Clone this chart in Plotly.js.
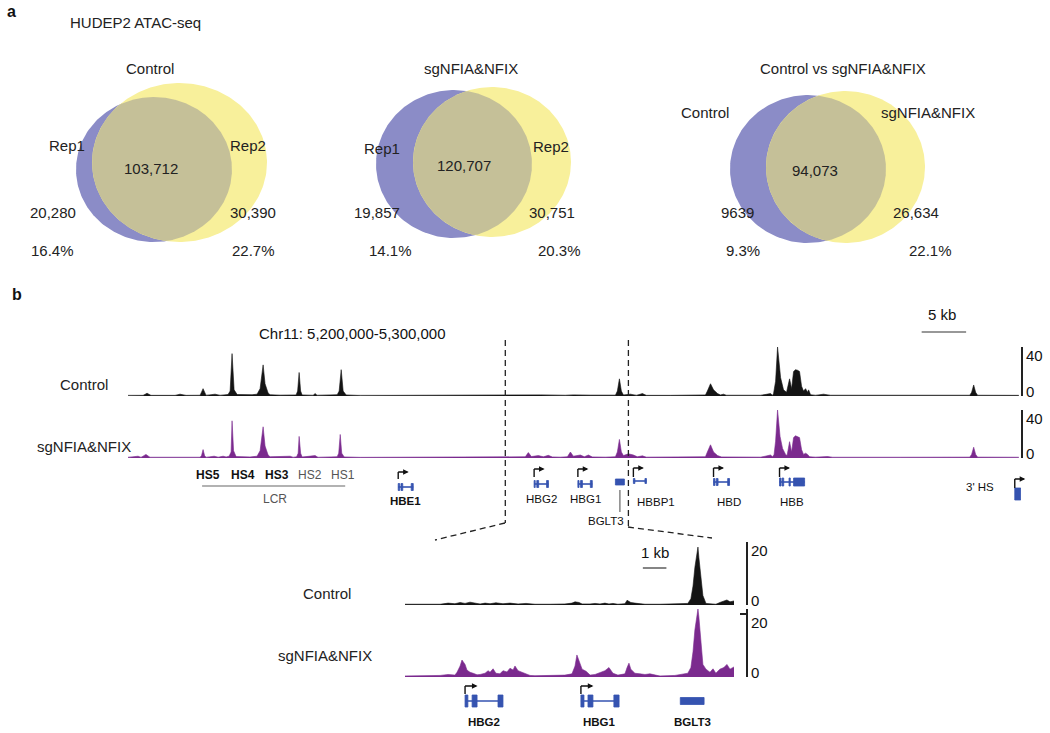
<!DOCTYPE html>
<html><head><meta charset="utf-8">
<script src="https://cdn.plot.ly/plotly-3.0.1.min.js"></script>
<style>html,body{margin:0;padding:0;background:#fff}#chart{width:1050px;height:733px}</style>
</head><body><div id="chart"></div>
<script>
// ================= DATA =================
// Panel a: Venn diagrams (peak counts)
const vennTitles = ['Control', 'sgNFIA&NFIX', 'Control vs sgNFIA&NFIX'];
const setANames = ['Rep1', 'Rep1', 'Control'];
const setBNames = ['Rep2', 'Rep2', 'sgNFIA&NFIX'];
const onlyA = [20280, 19857, 9639];
const shared = [103712, 120707, 94073];
const onlyB = [30390, 30751, 26634];

// Panel b: ATAC signal, chr11 position (kb) and signal
const mainCtrl = [[5300.44,0.3],[5298.75,0.4],[5298.30,2.3],[5297.85,0.4],[5295.15,0.4],[5294.59,1.5],[5293.91,0.4],[5292.34,0.5],[5292.00,6],[5291.66,0.5],[5290.65,1.5],[5290.09,0.5],[5289.19,1.2],[5288.96,4],[5288.74,34.6],[5288.51,5],[5288.17,1.2],[5287.27,0.8],[5286.49,1.0],[5285.93,1.5],[5285.59,6],[5285.25,25.4],[5285.03,10],[5284.69,2.5],[5284.46,1],[5283.34,0.6],[5281.54,0.8],[5281.37,4],[5281.20,19.2],[5281.03,4],[5280.86,0.8],[5279.63,0.5],[5279.40,2],[5279.18,0.5],[5277.71,1],[5276.92,1],[5276.70,4],[5276.47,21.5],[5276.25,4],[5275.91,0.8],[5274.33,0.3],[5269.83,0.5],[5264.20,0.4],[5258.58,0.5],[5255.20,0.7],[5254.08,0.9],[5251.27,0.5],[5250.37,0.9],[5248.45,0.6],[5247.33,0.5],[5245.64,0.6],[5245.42,4],[5245.19,14],[5244.97,4],[5244.74,0.8],[5243.95,1.5],[5243.28,0.5],[5242.60,2],[5242.15,0.4],[5239.45,0.4],[5236.07,0.5],[5235.52,0.8],[5235.30,4],[5234.95,10],[5234.61,5],[5234.16,2],[5233.83,0.8],[5233.49,1.5],[5233.15,0.5],[5229.33,0.5],[5228.20,2],[5227.97,0.5],[5227.86,2],[5227.63,12],[5227.41,40],[5227.07,15],[5226.74,5],[5226.40,3],[5226.06,14],[5225.83,6],[5225.61,20],[5225.39,21.5],[5225.16,21],[5224.94,20],[5224.71,8],[5224.49,4],[5224.26,6],[5224.04,3],[5223.92,5],[5223.70,1],[5223.14,0.5],[5222.24,1.5],[5221.45,0.5],[5213.57,0.4],[5205.81,0.5],[5205.59,3],[5205.36,9],[5205.14,3],[5204.91,0.5],[5200.29,0.4]];
const mainKO = [[5300.44,0.5],[5299.31,1.5],[5298.98,0.5],[5298.42,3],[5297.96,0.5],[5295.04,0.4],[5294.59,1],[5294.14,0.4],[5292.34,0.5],[5292.17,2],[5292.00,7],[5291.83,2],[5291.66,0.5],[5290.76,1.5],[5290.30,0.6],[5289.75,1.5],[5289.41,0.8],[5289.07,1.5],[5288.85,5],[5288.74,31],[5288.57,6],[5288.29,1.2],[5286.71,0.8],[5285.93,1.5],[5285.59,6],[5285.25,26],[5285.03,10],[5284.69,2.5],[5284.46,1],[5282.21,1.5],[5281.87,0.5],[5281.48,1],[5281.31,4],[5281.20,18],[5281.03,4],[5280.86,0.8],[5279.40,2],[5279.07,0.5],[5276.92,1],[5276.75,4],[5276.58,19.6],[5276.41,4],[5276.13,0.8],[5274.33,0.4],[5267.58,0.5],[5260.83,0.5],[5256.89,0.8],[5255.77,1],[5255.43,4.5],[5255.09,1.2],[5254.30,2],[5253.74,1],[5253.18,2.2],[5252.73,0.8],[5251.83,0.6],[5251.04,1],[5250.70,5],[5250.37,1.5],[5249.58,2.5],[5249.13,1],[5248.68,2.5],[5248.23,0.8],[5246.77,0.6],[5245.64,1],[5245.42,5],[5245.19,15.5],[5244.97,5],[5244.74,2],[5244.18,3.5],[5243.62,2.5],[5243.17,1],[5242.60,1.8],[5242.15,0.6],[5238.33,0.6],[5235.52,1],[5235.30,5],[5234.95,11],[5234.61,5],[5234.16,2],[5233.71,0.8],[5229.33,0.6],[5228.20,2.5],[5227.97,1],[5227.80,3],[5227.63,14],[5227.41,40],[5227.13,18],[5226.85,8],[5226.51,3],[5226.34,2],[5226.06,13.6],[5225.83,5],[5225.61,17],[5225.39,18.5],[5225.16,18],[5224.94,17],[5224.71,7],[5224.49,3],[5224.26,4],[5224.04,3],[5223.81,1],[5223.14,0.6],[5221.78,1.2],[5221.22,0.5],[5213.57,0.5],[5205.81,0.6],[5205.59,3],[5205.36,9],[5205.14,3],[5204.91,0.6],[5200.29,0.5]];
const insetCtrl = [[5257.33,0.2],[5256.69,0.3],[5255.84,0.2],[5255.50,0.6],[5255.21,0.4],[5254.99,0.8],[5254.78,0.5],[5254.57,0.9],[5254.27,0.6],[5254.14,0.3],[5253.93,0.6],[5253.72,0.4],[5253.47,0.7],[5253.17,0.4],[5252.87,0.6],[5252.53,0.3],[5252.19,0.5],[5251.81,0.2],[5251.17,0.2],[5250.54,0.3],[5250.24,0.6],[5250.11,1.0],[5249.94,0.8],[5249.81,0.3],[5249.47,0.3],[5249.26,0.5],[5249.05,0.3],[5248.84,0.6],[5248.67,0.3],[5248.50,0.5],[5248.29,0.2],[5247.99,0.4],[5247.90,1.5],[5247.82,1.2],[5247.74,0.8],[5247.57,0.6],[5247.35,0.5],[5247.14,0.2],[5246.50,0.2],[5245.87,0.3],[5245.32,0.5],[5245.19,2],[5245.10,6],[5245.02,12],[5244.93,16],[5244.89,18.4],[5244.85,15],[5244.76,9],[5244.68,3],[5244.55,0.5],[5244.25,0.4],[5244.13,0.2],[5243.96,0.8],[5243.79,1.2],[5243.66,1.6],[5243.53,1.0],[5243.36,1.3]];
const insetKO = [[5257.33,0.3],[5256.69,0.4],[5255.84,0.5],[5255.50,0.8],[5255.21,0.6],[5255.12,1.5],[5254.99,3.5],[5254.91,5.4],[5254.78,4],[5254.70,2.2],[5254.57,1.5],[5254.44,1.2],[5254.27,0.7],[5254.14,0.8],[5253.93,1.2],[5253.80,2.0],[5253.72,1.5],[5253.59,2.6],[5253.47,1.2],[5253.30,1.0],[5253.17,2.0],[5253.00,1.6],[5252.87,2.8],[5252.74,2.2],[5252.66,3.5],[5252.53,2.0],[5252.36,1.5],[5252.19,1.2],[5252.02,0.5],[5251.81,0.4],[5251.17,0.5],[5250.54,0.6],[5250.24,1.0],[5250.11,3.5],[5250.03,7],[5249.94,5],[5249.81,2.5],[5249.64,1.8],[5249.47,0.6],[5249.26,0.8],[5249.05,1.5],[5248.84,2.0],[5248.67,3.0],[5248.50,1.2],[5248.29,0.6],[5247.99,1.0],[5247.90,3.0],[5247.82,4.4],[5247.74,2.5],[5247.57,1.2],[5247.35,1.0],[5247.14,0.8],[5246.93,1.0],[5246.50,0.3],[5245.87,0.5],[5245.32,1.2],[5245.19,3],[5245.10,8],[5245.02,15],[5244.93,20],[5244.89,21.6],[5244.85,19],[5244.76,12],[5244.68,4],[5244.55,2.5],[5244.38,1.5],[5244.25,2.6],[5244.13,1.2],[5243.96,2.5],[5243.79,3.0],[5243.66,4.0],[5243.53,2.5],[5243.36,3.2]];

// Genes (kb on chr11, displayed minus strand left->right)
const geneNames = ['HBE1', 'HBG2', 'HBG1', 'BGLT3', 'HBBP1', 'HBD', 'HBB', ''];
const geneExons = [
  [[5270.06,5269.90],[5269.75,5269.55],[5268.60,5268.37]],
  [[5254.78,5254.66],[5254.48,5254.27],[5253.38,5253.17]],
  [[5249.86,5249.73],[5249.56,5249.35],[5248.46,5248.24]],
  [[5245.64,5244.63]],
  [[5243.62,5243.45],[5242.32,5242.15]],
  [[5234.61,5234.45],[5234.30,5234.10],[5233.02,5232.81]],
  [[5227.19,5227.02],[5226.90,5226.72],[5226.12,5225.98],[5225.61,5224.37]],
  [[5200.74,5200.07]]
];
const geneHasTss = [true, true, true, false, true, true, true, true];
const insetGenes = ['HBG2', 'HBG1', 'BGLT3'];
const lcrNames = ['HS5', 'HS4', 'HS3', 'HS2', 'HS1'];
const zoomWindow = [5258.02, 5244.18];
const trackTicksMain = [0, 40];
const trackTicksInset = [0, 20];

// ================= LAYOUT CONFIG (positions / styles) =================
const W = 1050, H = 733;
const py = v => 1 - v / H;
const pxp = v => v / W;
const FONT = 'Liberation Sans, Arial, Helvetica, sans-serif';
const BLUE = '#3553b0', BLACK = '#141414', PURPLE = '#7b2a8e';
const vennColA = '#8b8cc7', vennColB = '#f8f09b', vennColAB = '#c5c098';

const vennGeo = [
  {A:{cx:154,cy:169.5,rx:78,ry:72.5}, B:{cx:179.5,cy:162.5,rx:87.5,ry:79.5},
   title:[150,68], la:[67,145], lb:[248,145], both:[151,168], oa:[53,212], ob:[253,212], pa:[52,250], pb:[253,250]},
  {A:{cx:454,cy:164,rx:78,ry:74}, B:{cx:492,cy:162,rx:79,ry:75},
   title:[471,68], la:[382,148], lb:[551,146], both:[464,165], oa:[377,212], ob:[552,212], pa:[390,250], pb:[559,250]},
  {A:{cx:808,cy:169,rx:78,ry:74}, B:{cx:845.5,cy:167,rx:79.5,ry:76},
   title:[843,68], la:[705,112], lb:[928,112], both:[815,170], oa:[737,212], ob:[916,212], pa:[743,250], pb:[930,250]}
];
// main gene glyph rows (pixel y): centre, exon height, arrow y, arrow foot
const glyphY   = [487, 484, 484, 482, 481, 482, 482, 494];
const glyphH   = [7, 7, 7, 6, 5, 7, 8, 12];
const arrowY   = [472, 469, 469, 0, 468, 468, 468, 479];
const arrowFoot= [479, 477, 477, 0, 477, 477, 477, 488];
const mainLabel = {
  HBE1:{y:501, bold:true}, HBG2:{y:499}, HBG1:{y:499}, BGLT3:{x:5246.65, y:521},
  HBBP1:{x:5243.39, y:502, anchor:'left'}, HBD:{x:5234.50, y:502, anchor:'left'}, HBB:{y:502}
};
const hsLabelKb = [5291.44, 5287.50, 5283.67, 5279.96, 5276.25];

// ================= BUILD =================
const traces = [], shapes = [], annotations = [];
function addText(o) {
  annotations.push(Object.assign({showarrow: false, xanchor: 'center', yanchor: 'middle'}, o));
}

// ---- Venn
function ellipse(e, n) {
  const xs = [], ys = [];
  for (let k = 0; k <= n; k++) { const t = 2 * Math.PI * k / n; xs.push(e.cx + e.rx * Math.cos(t)); ys.push(e.cy + e.ry * Math.sin(t)); }
  return [xs, ys];
}
const inside = (e, x, y) => ((x - e.cx) / e.rx) ** 2 + ((y - e.cy) / e.ry) ** 2 <= 1;
function lens(a, b, n) {
  const pts = [];
  for (let k = 0; k < n; k++) {
    const t = 2 * Math.PI * k / n;
    let x = a.cx + a.rx * Math.cos(t), y = a.cy + a.ry * Math.sin(t);
    if (inside(b, x, y)) pts.push([x, y]);
    x = b.cx + b.rx * Math.cos(t); y = b.cy + b.ry * Math.sin(t);
    if (inside(a, x, y)) pts.push([x, y]);
  }
  const mx = pts.reduce((s, p) => s + p[0], 0) / pts.length, my = pts.reduce((s, p) => s + p[1], 0) / pts.length;
  pts.sort((p, q) => Math.atan2(p[1] - my, p[0] - mx) - Math.atan2(q[1] - my, q[0] - mx));
  pts.push(pts[0]);
  return [pts.map(p => p[0]), pts.map(p => p[1])];
}
const fmtN = n => n >= 10000 ? n.toLocaleString('en-US') : String(n);
const pct = (a, s) => (100 * a / (a + s)).toFixed(1) + '%';
function vtext(t, pos) {
  addText({text: t, x: pos[0], y: pos[1], xref: 'x3', yref: 'y5', font: {size: 15, color: '#222'}});
}
vennGeo.forEach((g, i) => {
  const [ax, ay] = ellipse(g.A, 240), [bx, by] = ellipse(g.B, 240), [lx, ly] = lens(g.A, g.B, 1440);
  const base = {type: 'scatter', mode: 'lines', fill: 'toself', xaxis: 'x3', yaxis: 'y5', line: {width: 0}, hoverinfo: 'skip'};
  traces.push(Object.assign({}, base, {x: ax, y: ay, fillcolor: vennColA}));
  traces.push(Object.assign({}, base, {x: bx, y: by, fillcolor: vennColB}));
  traces.push(Object.assign({}, base, {x: lx, y: ly, fillcolor: vennColAB}));
  vtext(vennTitles[i], g.title);
  vtext(setANames[i], g.la); vtext(setBNames[i], g.lb);
  vtext(fmtN(shared[i]), g.both);
  vtext(fmtN(onlyA[i]), g.oa); vtext(fmtN(onlyB[i]), g.ob);
  vtext(pct(onlyA[i], shared[i]), g.pa); vtext(pct(onlyB[i], shared[i]), g.pb);
});

// ---- Tracks
function track(data, xa, ya, color) {
  traces.push({type: 'scatter', mode: 'lines', x: data.map(p => p[0]), y: data.map(p => p[1]), xaxis: xa, yaxis: ya,
    fill: 'tozeroy', fillcolor: color, line: {color: color, width: 0.6}, hoverinfo: 'skip'});
}
function baseline(data, xa, ya, color) {
  shapes.push({type: 'line', xref: xa, yref: ya, x0: data[0][0], x1: data[data.length - 1][0], y0: 0, y1: 0,
    line: {color: color, width: 3}, layer: 'below'});
}
baseline(mainCtrl, 'x', 'y', '#cfcfcf'); baseline(mainKO, 'x', 'y2', '#dfd0e8');
baseline(insetCtrl, 'x2', 'y3', '#cfcfcf'); baseline(insetKO, 'x2', 'y4', '#dfd0e8');
track(mainCtrl, 'x', 'y', BLACK);
track(mainKO, 'x', 'y2', PURPLE);
track(insetCtrl, 'x2', 'y3', BLACK);
track(insetKO, 'x2', 'y4', PURPLE);

// scale-bracket labels (at the axis tick values, nudged as in the reference)
function bracketLabels(yref, ticks, xpx) {
  addText({text: String(ticks[1]), x: pxp(xpx), xref: 'paper', y: ticks[1], yref: yref, xanchor: 'left', yshift: -8, font: {size: 15, color: '#111'}});
  addText({text: String(ticks[0]), x: pxp(xpx), xref: 'paper', y: ticks[0], yref: yref, xanchor: 'left', yshift: 5, font: {size: 15, color: '#111'}});
}
bracketLabels('y', trackTicksMain, 1024);
bracketLabels('y2', trackTicksMain, 1024);
bracketLabels('y3', trackTicksInset, 749);
bracketLabels('y4', trackTicksInset, 749);

// ---- Genes
function drawGene(i, xref, yc, h, aY, aFoot, arrowLen) {
  const ex = geneExons[i];
  const s = ex[0][0], e = ex[ex.length - 1][1];
  if (ex.length > 1) shapes.push({type: 'line', xref, yref: 'paper', x0: s, x1: e, y0: py(yc), y1: py(yc), line: {color: BLUE, width: 1.6}});
  ex.forEach(x => shapes.push({type: 'rect', xref, yref: 'paper', x0: x[0], x1: x[1], y0: py(yc - h / 2), y1: py(yc + h / 2),
    fillcolor: BLUE, line: {color: BLUE, width: 0.8}}));
  if (geneHasTss[i]) {
    shapes.push({type: 'line', xref, yref: 'paper', x0: s, x1: s, y0: py(aFoot), y1: py(aY), line: {color: '#111', width: 1.4}});
    annotations.push({x: s, y: py(aY), xref, yref: 'paper', text: '', showarrow: true, ax: arrowLen, ay: 0,
      arrowside: 'start', arrowhead: 2, startarrowhead: 2, arrowsize: 0.8, startarrowsize: 0.8,
      arrowwidth: 1.4, arrowcolor: '#111', standoff: 0, startstandoff: 0});
  }
  return [s, e];
}
geneNames.forEach((n, i) => {
  const [s, e] = drawGene(i, 'x', glyphY[i], glyphH[i], arrowY[i], arrowFoot[i], 12);
  if (!n) return;
  const L = mainLabel[n] || {};
  addText({text: L.bold ? '<b>' + n + '</b>' : n, x: L.x !== undefined ? L.x : (s + e) / 2, y: py(L.y), xref: 'x', yref: 'paper',
    xanchor: L.anchor || 'center', font: {size: 11.5, color: '#111'}});
});
// BGLT3 connector
const bg = geneExons[geneNames.indexOf('BGLT3')][0];
shapes.push({type: 'line', xref: 'x', yref: 'paper', x0: (bg[0] + bg[1]) / 2, x1: (bg[0] + bg[1]) / 2, y0: py(490), y1: py(512), line: {color: '#666', width: 1.2}});
// inset genes
insetGenes.forEach(n => {
  const i = geneNames.indexOf(n);
  const [s, e] = drawGene(i, 'x2', 701, n === 'BGLT3' ? 7 : 12, 686, 694, 14);
  addText({text: '<b>' + n + '</b>', x: (s + e) / 2, y: py(722), xref: 'x2', yref: 'paper', font: {size: 11.5, color: '#111'}});
});

// LCR
lcrNames.forEach((n, k) => addText({text: k < 3 ? '<b>' + n + '</b>' : n, x: hsLabelKb[k], y: py(475), xref: 'x', yref: 'paper',
  font: {size: 12, color: k < 3 ? '#111' : '#555'}}));
shapes.push({type: 'line', xref: 'x', yref: 'paper', x0: 5292.11, x1: 5276.02, y0: py(486), y1: py(486), line: {color: '#999', width: 1.5}});
addText({text: 'LCR', x: 5283.90, y: py(499), xref: 'x', yref: 'paper', font: {size: 12, color: '#555'}});
addText({text: "3' HS", x: 5204.68, y: py(487), xref: 'x', yref: 'paper', font: {size: 11.5, color: '#111'}});

// zoom window dashed lines
const dashL = {color: '#222', width: 1.3, dash: '6px,4px'};
shapes.push({type: 'line', xref: 'x', yref: 'paper', x0: zoomWindow[0], x1: zoomWindow[0], y0: py(340), y1: py(523), line: dashL});
shapes.push({type: 'line', xref: 'x', yref: 'paper', x0: zoomWindow[1], x1: zoomWindow[1], y0: py(340), y1: py(527), line: dashL});
shapes.push({type: 'line', xref: 'paper', yref: 'paper', x0: pxp(505), x1: pxp(435), y0: py(523), y1: py(540), line: dashL});
shapes.push({type: 'line', xref: 'paper', yref: 'paper', x0: pxp(628), x1: pxp(712), y0: py(527), y1: py(538), line: dashL});

// scale bars
shapes.push({type: 'line', xref: 'x', yref: 'paper', x0: 5211.21, x1: 5206.21, y0: py(332), y1: py(332), line: {color: '#333', width: 1.2}});
addText({text: '5 kb', x: 5208.9, y: py(314), xref: 'x', yref: 'paper', font: {size: 15, color: '#111'}});
shapes.push({type: 'line', xref: 'x2', yref: 'paper', x0: 5247.23, x1: 5246.23, y0: py(568), y1: py(568), line: {color: '#333', width: 1.2}});
addText({text: '1 kb', x: 5246.73, y: py(552), xref: 'x2', yref: 'paper', font: {size: 15, color: '#111'}});

// text labels
function ptext(t, x, y, size, color) {
  addText({text: t, x: pxp(x), y: py(y), xref: 'paper', yref: 'paper', font: {size: size || 15, color: color || '#222'}});
}
ptext('<b>a</b>', 11, 12, 16, '#111');
ptext('<b>b</b>', 17, 295, 16, '#111');
ptext('HUDEP2 ATAC-seq', 135, 23, 15);
ptext('Chr11: 5,200,000-5,300,000', 352, 333, 15, '#111');
ptext('Control', 84, 384, 15);
ptext('sgNFIA&NFIX', 84, 447, 15);
ptext('Control', 327, 593, 15);
ptext('sgNFIA&NFIX', 325, 655, 15);

function trackY(top, bot, rmax, ticks, anchor) {
  return {domain: [py(bot), py(top)], range: [0, rmax], anchor: anchor, side: 'right',
    tickvals: ticks, showticklabels: false, ticks: 'inside', ticklen: 6, tickwidth: 1.5, tickcolor: '#222',
    showline: true, linewidth: 1.5, linecolor: '#222', showgrid: false, zeroline: false,
    fixedrange: true, automargin: false};
}

const layout = {
  width: W, height: H, margin: {l: 0, r: 0, t: 0, b: 0},
  paper_bgcolor: '#fff', plot_bgcolor: 'rgba(0,0,0,0)',
  font: {family: FONT, size: 15, color: '#222'},
  showlegend: false, hovermode: false,
  xaxis: {domain: [pxp(128), pxp(1021)], range: [5300.44, 5200.04], visible: false, anchor: 'y', fixedrange: true},
  yaxis: trackY(347, 396, 40, trackTicksMain, 'x'),
  yaxis2: trackY(410, 458, 40, trackTicksMain, 'x'),
  xaxis2: {domain: [pxp(405), pxp(746)], range: [5257.33, 5242.85], visible: false, anchor: 'y3', fixedrange: true},
  yaxis3: trackY(542, 605, 20, trackTicksInset, 'x2'),
  yaxis4: trackY(609, 677, 21.6, trackTicksInset, 'x2'),
  xaxis3: {domain: [0, 1], range: [0, 1050], visible: false, anchor: 'y5', fixedrange: true},
  yaxis5: {domain: [py(290), 1], range: [290, 0], visible: false, anchor: 'x3', fixedrange: true},
  shapes: shapes, annotations: annotations
};

Plotly.newPlot('chart', traces, layout, {displayModeBar: false, staticPlot: true});
</script>
</body></html>
